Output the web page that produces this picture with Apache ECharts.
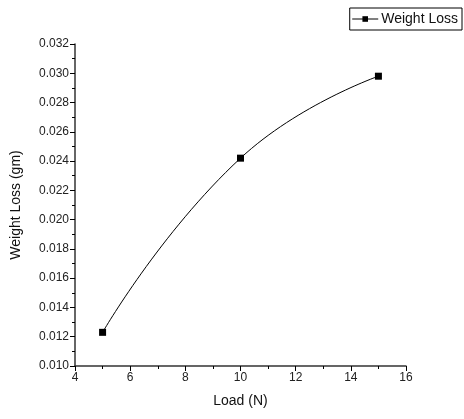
<!DOCTYPE html>
<html>
<head>
<meta charset="utf-8">
<script src="https://cdn.jsdelivr.net/npm/echarts@6/dist/echarts.min.js"></script>
<style>
html, body { margin: 0; padding: 0; background: #fff; }
#chart { width: 464px; height: 419px; }
</style>
</head>
<body>
<div id="chart"></div>
<script>
// data
var loads = [5, 10, 15];
var weightLoss = [0.0123, 0.0242, 0.0298];
var seriesName = 'Weight Loss';

var points = loads.map(function (x, i) { return [x, weightLoss[i]]; });

var chart = echarts.init(document.getElementById('chart'));
var font = 'Liberation Sans, Arial, sans-serif';
var axisCommon = {
	axisLine: { show: true, lineStyle: { color: '#333', width: 1.5 } },
	axisTick: { show: true, inside: false, length: 5, lineStyle: { color: '#000' } },
	minorTick: { show: true, splitNumber: 2, length: 3, lineStyle: { color: '#000' } },
	splitLine: { show: false },
	axisLabel: { color: '#222', fontFamily: font, fontSize: 12 },
	nameTextStyle: { color: '#111', fontFamily: font, fontSize: 14 }
};

chart.setOption({
	animation: false,
	backgroundColor: '#fff',
	grid: { left: 75, right: 58, top: 44, bottom: 53 },
	legend: {
		data: [seriesName],
		right: 2,
		top: 8,
		itemWidth: 26,
		itemHeight: 7,
		itemGap: 4,
		padding: [4, 4, 4, 2],
		borderColor: '#000',
		borderWidth: 1,
		borderRadius: 0,
		lineStyle: { width: 1 },
		textStyle: { color: '#111', fontFamily: font, fontSize: 14, padding: [0, 0, 0, -2] }
	},
	xAxis: Object.assign({}, axisCommon, {
		type: 'value',
		min: 4, max: 16, interval: 2,
		name: 'Load (N)',
		nameLocation: 'middle',
		nameGap: 28,
		axisLabel: Object.assign({}, axisCommon.axisLabel, { margin: 6 })
	}),
	yAxis: Object.assign({}, axisCommon, {
		type: 'value',
		min: 0.010, max: 0.032, interval: 0.002,
		name: 'Weight Loss (gm)',
		nameLocation: 'middle',
		nameGap: 52,
		axisLabel: Object.assign({}, axisCommon.axisLabel, {
			margin: 6,
			formatter: function (v) { return v.toFixed(3); }
		})
	}),
	series: [{
		name: seriesName,
		type: 'line',
		data: points,
		smooth: 0.5,
		symbol: 'rect',
		symbolSize: 7,
		itemStyle: { color: '#000' },
		lineStyle: { color: '#000', width: 1 }
	}]
});
</script>
</body>
</html>
